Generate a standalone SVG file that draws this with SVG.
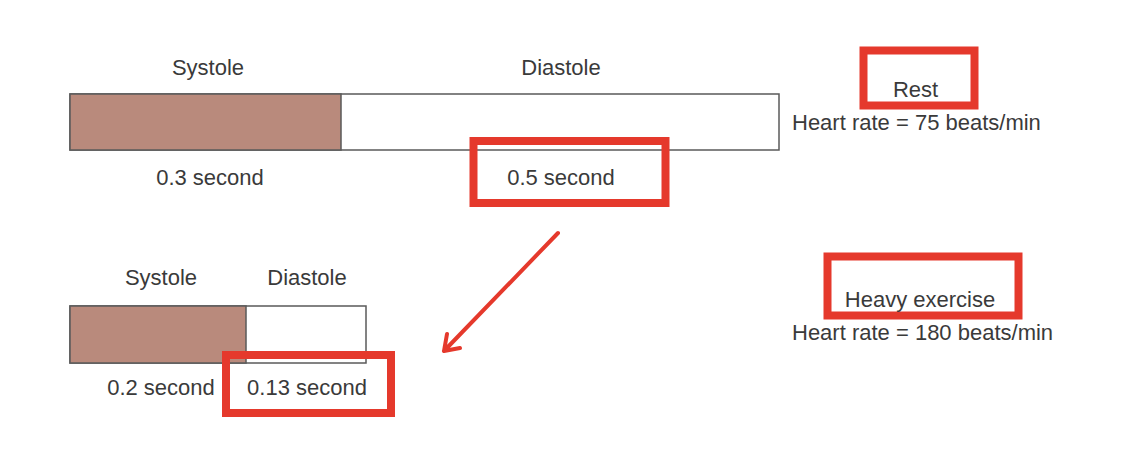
<svg xmlns="http://www.w3.org/2000/svg" width="1134" height="470" viewBox="0 0 1134 470">
<defs>
<style>
.t{font-family:"Liberation Sans",Arial,sans-serif;font-size:22px;fill:#3a3a3a}
.m{text-anchor:middle}
.bar{fill:#ffffff;stroke:#5a5a5a;stroke-width:1.5}
.sys{fill:#b98a7c;stroke:#5a5a5a;stroke-width:1.5}
.hl{fill:none;stroke:#e5392c;stroke-width:8}
.arr{fill:none;stroke:#e5392c;stroke-width:4;stroke-linecap:round;stroke-linejoin:round}
</style>
</defs>
<rect width="1134" height="470" fill="#ffffff"/>
<g id="rest-bar">
<rect class="bar" x="70" y="94" width="709" height="56"/>
<rect class="sys" x="70" y="94" width="271" height="56"/>
<text class="t m" x="208" y="75">Systole</text>
<text class="t m" x="561" y="75">Diastole</text>
<text class="t m" x="210" y="185">0.3 second</text>
</g>
<g id="rest-diastole-time">
<rect class="hl" x="473.5" y="141" width="192" height="62"/>
<text class="t m" x="561" y="185">0.5 second</text>
</g>
<g id="rest-label">
<rect class="hl" x="863.5" y="50.5" width="111" height="55"/>
<text class="t m" x="915.5" y="97">Rest</text>
<text class="t" x="792" y="130">Heart rate = 75 beats/min</text>
</g>
<g id="exercise-bar">
<rect class="bar" x="70" y="306" width="296" height="57"/>
<rect class="sys" x="70" y="306" width="176" height="57"/>
<text class="t m" x="161" y="285">Systole</text>
<text class="t m" x="307" y="285">Diastole</text>
<text class="t m" x="161" y="395">0.2 second</text>
</g>
<g id="exercise-diastole-time">
<rect class="hl" x="226" y="355" width="165" height="58"/>
<text class="t m" x="307" y="395">0.13 second</text>
</g>
<g id="exercise-label">
<rect class="hl" x="827.5" y="256.5" width="191" height="59"/>
<text class="t m" x="920" y="307">Heavy exercise</text>
<text class="t" x="792" y="340">Heart rate = 180 beats/min</text>
</g>
<g id="connectors">
<path class="arr" d="M558 233 L444 351 M447 334 L444 351 L460 348"/>
</g>
</svg>
